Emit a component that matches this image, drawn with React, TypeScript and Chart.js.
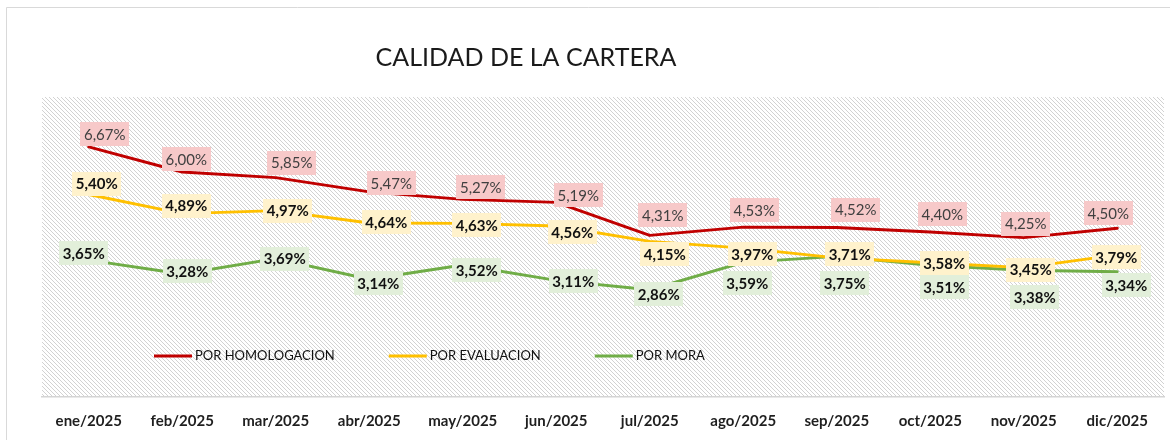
import { useEffect, useRef } from "react";
import { Chart, registerables } from "chart.js";

Chart.register(...registerables);

// ---------- data ----------
const chartTitle = "CALIDAD DE LA CARTERA";
const months = [
  "ene/2025", "feb/2025", "mar/2025", "abr/2025", "may/2025", "jun/2025",
  "jul/2025", "ago/2025", "sep/2025", "oct/2025", "nov/2025", "dic/2025",
];
const seriesNames = ["POR HOMOLOGACION", "POR EVALUACION", "POR MORA"];
const porHomologacion = [6.67, 6.0, 5.85, 5.47, 5.27, 5.19, 4.31, 4.53, 4.52, 4.4, 4.25, 4.5];
const porEvaluacion = [5.4, 4.89, 4.97, 4.64, 4.63, 4.56, 4.15, 3.97, 3.71, 3.58, 3.45, 3.79];
const porMora = [3.65, 3.28, 3.69, 3.14, 3.52, 3.11, 2.86, 3.59, 3.75, 3.51, 3.38, 3.34];

// ---------- label placement (pixel nudges relative to each point) ----------
const nudgeHomologacion = [[16, -13], [4, -13], [16, -15], [22, -9], [18, -12], [22, -7], [13, -20], [11, -17], [19, -18], [12, -18], [2, -14], [-9, -15]];
const nudgeEvaluacion = [[8, -11], [4, -8], [12, 0], [17, -1], [14, 2], [16, 6], [15, 13], [9, 6], [13, -4], [14, 0], [7, 2], [-1, 2]];
const nudgeMora = [[-5, -7], [5, -3], [9, 0], [9, 4], [14, 5], [17, 1], [9, 4], [4, 21], [8, 27], [14, 22], [11, 27], [9, 13]];

// ---------- styles ----------
const lineColors = ["#C00000", "#FFC000", "#70AD47"];
const labelBgColors = ["#F7C9C9", "#FFF2CC", "#E2EFDA"];
const labelWeights = ["normal", "bold", "bold"];
const labelTextColors = ["#404040", "#111111", "#111111"];
const FONT = "Lato, 'Open Sans', sans-serif";

const fmt = (v: number) => v.toFixed(2).replace(".", ",") + "%";

let hatchPattern: CanvasPattern | null = null;
function getHatch(ctx: CanvasRenderingContext2D) {
  if (hatchPattern) return hatchPattern;
  const t = document.createElement("canvas");
  t.width = 4;
  t.height = 4;
  const tc = t.getContext("2d")!;
  tc.fillStyle = "#ffffff";
  tc.fillRect(0, 0, 4, 4);
  tc.fillStyle = "#D2D2D2";
  for (let i = 0; i < 4; i++) tc.fillRect(i, i, 1, 1);
  hatchPattern = ctx.createPattern(t, "repeat");
  return hatchPattern;
}

const backgroundPlugin = {
  id: "bgPlugin",
  beforeDraw(chart: any) {
    const { ctx, chartArea, width, height } = chart;
    ctx.save();
    ctx.fillStyle = "#ffffff";
    ctx.fillRect(0, 0, width, height);
    // outer frame
    ctx.strokeStyle = "#D9D9D9";
    ctx.lineWidth = 1;
    ctx.beginPath();
    ctx.moveTo(6.5, height);
    ctx.lineTo(6.5, 7.5);
    ctx.lineTo(width, 7.5);
    ctx.stroke();
    // hatched plot area
    ctx.fillStyle = getHatch(ctx) || "#eeeeee";
    ctx.fillRect(chartArea.left, chartArea.top, chartArea.right - chartArea.left, chartArea.bottom - chartArea.top);
    ctx.restore();
  },
};

const titlePlugin = {
  id: "titlePlugin",
  afterDraw(chart: any) {
    const { ctx } = chart;
    ctx.save();
    ctx.font = `25px ${FONT}`;
    ctx.fillStyle = "#1a1a1a";
    ctx.textAlign = "center";
    ctx.textBaseline = "middle";
    ctx.fillText(chartTitle, 526, 58);
    ctx.restore();
  },
};

const legendPlugin = {
  id: "legendPlugin",
  afterDatasetsDraw(chart: any) {
    const { ctx } = chart;
    ctx.save();
    ctx.font = `13px ${FONT}`;
    ctx.textBaseline = "middle";
    ctx.textAlign = "left";
    let x = 154;
    const y = 356;
    chart.data.datasets.forEach((ds: any) => {
      ctx.strokeStyle = ds.borderColor;
      ctx.lineWidth = 3;
      ctx.lineCap = "butt";
      ctx.beginPath();
      ctx.moveTo(x, y);
      ctx.lineTo(x + 38, y);
      ctx.stroke();
      ctx.fillStyle = "#111111";
      ctx.fillText(ds.label, x + 41, y);
      const w = ctx.measureText(ds.label).width;
      x += 41 + w + 54;
    });
    ctx.restore();
  },
};

const nudges = [nudgeHomologacion, nudgeEvaluacion, nudgeMora];

const labelPlugin = {
  id: "labelPlugin",
  afterDatasetsDraw(chart: any) {
    const { ctx } = chart;
    ctx.save();
    ctx.textAlign = "center";
    ctx.textBaseline = "middle";
    chart.data.datasets.forEach((ds: any, di: number) => {
      const meta = chart.getDatasetMeta(di);
      ctx.font = `${labelWeights[di]} 15px ${FONT}`;
      meta.data.forEach((pt: any, i: number) => {
        const txt = fmt(ds.data[i]);
        const [dx, dy] = nudges[di][i];
        const cx = pt.x + dx;
        const cy = pt.y + dy;
        const w = ctx.measureText(txt).width + 7;
        const h = 24;
        ctx.fillStyle = labelBgColors[di];
        ctx.fillRect(Math.round(cx - w / 2), Math.round(cy - h / 2), Math.round(w), h);
        ctx.fillStyle = labelTextColors[di];
        ctx.fillText(txt, cx, cy + 1);
      });
    });
    ctx.restore();
  },
};

export default function App() {
  const ref = useRef<HTMLCanvasElement>(null);
  useEffect(() => {
    document.body.style.margin = "0";
    const canvas = ref.current!;
    const series = [porHomologacion, porEvaluacion, porMora];
    const chart = new Chart(canvas, {
      type: "line",
      data: {
        labels: months,
        datasets: series.map((d, i) => ({
          label: seriesNames[i],
          data: d,
          borderColor: lineColors[i],
          backgroundColor: lineColors[i],
          borderWidth: 3,
          pointRadius: 0,
          pointHoverRadius: 0,
          tension: 0,
          borderCapStyle: "round" as const,
          borderJoinStyle: "round" as const,
          fill: false,
        })),
      },
      options: {
        responsive: false,
        animation: false,
        devicePixelRatio: 1,
        layout: { padding: { left: 42, right: 6, top: 97, bottom: 0 } },
        plugins: {
          legend: { display: false },
          title: { display: false },
          tooltip: { enabled: false },
        },
        scales: {
          x: {
            type: "category",
            offset: true,
            grid: { display: false, drawTicks: false },
            border: { display: true, color: "#D4D4D4", width: 1.5 },
            ticks: {
              color: "#1f1f1f",
              font: { family: FONT, size: 15, weight: "bold" },
              padding: 15,
              maxRotation: 0,
              autoSkip: false,
            },
            afterFit(scale: any) {
              scale.height = 43;
            },
          },
          y: {
            display: false,
            min: 0,
            max: 8,
          },
        },
      },
      plugins: [backgroundPlugin, legendPlugin, labelPlugin, titlePlugin],
    } as any);
    return () => chart.destroy();
  }, []);
  return (
    <canvas
      ref={ref}
      width={1170}
      height={440}
      style={{ display: "block", width: 1170, height: 440 }}
    />
  );
}
